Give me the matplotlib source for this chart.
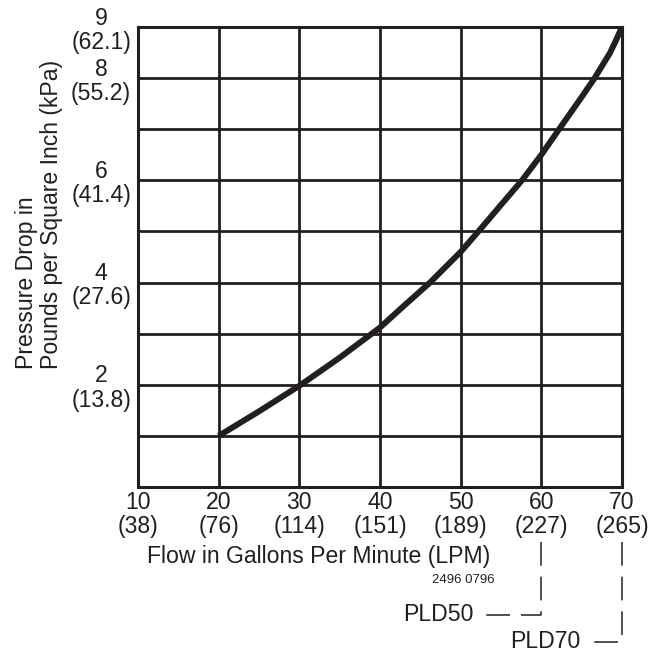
import matplotlib
matplotlib.use("Agg")
import matplotlib.pyplot as plt
import matplotlib.transforms as mtransforms

plt.rcParams['font.family'] = ['Liberation Sans', 'DejaVu Sans']

ink = '#231f20'

# flow (gpm) vs pressure drop (psi)
flow = [20, 25, 30, 35, 40, 43, 46.2, 50, 52.2, 55, 57.6, 60, 62.2, 65, 66.6, 68.5, 69.2, 70]
psi = [1.0, 1.48, 1.98, 2.53, 3.12, 3.55, 4.0, 4.6, 5.0, 5.52, 6.0, 6.5, 7.0, 7.63, 8.0, 8.49, 8.72, 9.0]

x_ticks = [10, 20, 30, 40, 50, 60, 70]
x_lpm = ['38', '76', '114', '151', '189', '227', '265']
y_ticks = [0, 1, 2, 3, 4, 5, 6, 7, 8, 9]
y_labels = ['', '', '2\n(13.8)', '', '4\n(27.6)', '', '6\n(41.4)', '', '8\n(55.2)', '9\n(62.1)']

# leader lines to model names
models = ['PLD50', 'PLD70']
model_flow = [60, 70]
leader_end = [52.4, 65.6]     # where the dashed line stops (gpm units)
leader_y = [-0.278, -0.336]   # axes fraction below the plot

fs = 16.6

fig = plt.figure(figsize=(6.67, 6.58), dpi=100)
ax = fig.add_axes([0.2069, 0.2599, 0.7256, 0.699])

ax.plot(flow, psi, color=ink, lw=4.3, solid_capstyle='butt', solid_joinstyle='round', zorder=3)

ax.set_xlim(10, 70)
ax.set_ylim(0, 9)
ax.set_xticks(x_ticks)
ax.set_xticklabels(['%d\n(%s)' % (a, b) for a, b in zip(x_ticks, x_lpm)])
ax.set_yticks(y_ticks)
ax.set_yticklabels(y_labels)
ax.tick_params(length=0, labelsize=fs, colors=ink)
ax.tick_params(axis='x', pad=3)
ax.tick_params(axis='y', pad=5)
for lab in ax.get_xticklabels():
    lab.set_multialignment('center')
    lab.set_linespacing(1.02)
for lab in ax.get_yticklabels():
    lab.set_multialignment('center')
    lab.set_linespacing(1.07)

ax.grid(True, color=ink, lw=2.0)
for s in ax.spines.values():
    s.set_color(ink)
    s.set_linewidth(2.2)

fig.text(319 / 667, 1 - 557 / 658, 'Flow in Gallons Per Minute (LPM)',
         ha='center', va='center', fontsize=fs, color=ink)
fig.text(463 / 667, 1 - 580 / 658, '2496 0796', ha='center', va='center',
         fontsize=9.5, color=ink)
fig.text(39 / 667, 1 - 369 / 658, 'Pressure Drop in\nPounds per Square Inch (kPa)',
         rotation=90, ha='center', va='bottom', multialignment='left',
         fontsize=fs, color=ink, linespacing=1.15)

trans = mtransforms.blended_transform_factory(ax.transData, ax.transAxes)
top_y = -0.1196
for name, fx, ex, ly in zip(models, model_flow, leader_end, leader_y):
    ax.plot([fx, fx, ex], [top_y, ly, ly], transform=trans, color=ink, lw=1.1,
            linestyle=(0, (15.5, 7.2)), clip_on=False)
    ax.text(ex - 0.8, ly, name, transform=trans, ha='right', va='center',
            fontsize=fs, color=ink)

fig.savefig('out.png', dpi=100)
